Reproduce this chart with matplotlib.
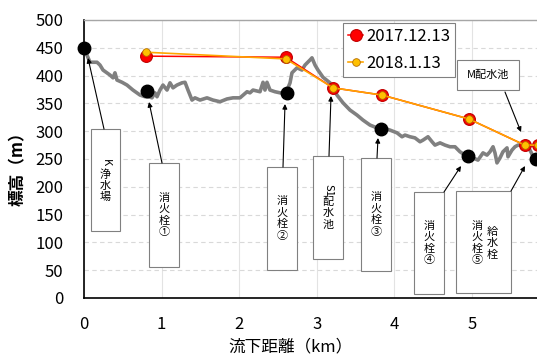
import matplotlib
matplotlib.use("Agg")
import matplotlib.pyplot as plt
from matplotlib.patches import Rectangle

plt.rcParams['font.family'] = ['Noto Sans CJK JP', 'DejaVu Sans']

# Ground profile along the pipeline (distance km, elevation m)
terrain_km = [0.000, 0.026, 0.077, 0.168, 0.206, 0.245, 0.335, 0.374, 0.399, 0.425,
              0.490, 0.554, 0.631, 0.722, 0.786, 0.838, 0.876, 0.915, 0.941, 0.979,
              1.018, 1.070, 1.108, 1.147, 1.198, 1.263, 1.302, 1.340, 1.392, 1.430,
              1.495, 1.585, 1.662, 1.753, 1.843, 1.920, 2.010, 2.101, 2.139, 2.178,
              2.268, 2.307, 2.332, 2.358, 2.397, 2.461, 2.526, 2.603, 2.655, 2.680,
              2.745, 2.809, 2.848, 2.912, 2.938, 2.977, 3.015, 3.080, 3.170, 3.260,
              3.338, 3.428, 3.518, 3.595, 3.686, 3.776, 3.853, 3.943, 4.034, 4.098,
              4.137, 4.201, 4.265, 4.330, 4.369, 4.433, 4.485, 4.523, 4.588, 4.652,
              4.716, 4.781, 4.845, 4.910, 4.948, 5.013, 5.077, 5.142, 5.193, 5.232,
              5.271, 5.296, 5.322, 5.361, 5.399, 5.451, 5.464, 5.515, 5.554, 5.593,
              5.657, 5.709, 5.747, 5.812]
terrain_m = [448, 441, 424, 424, 419, 410, 401, 396, 405, 392,
             388, 383, 374, 365, 362, 362, 360, 369, 362, 374,
             383, 374, 387, 378, 383, 387, 388, 374, 356, 360,
             356, 360, 356, 353, 358, 360, 360, 371, 369, 374,
             371, 388, 374, 388, 374, 371, 369, 369, 387, 405,
             414, 410, 419, 428, 432, 419, 410, 397, 387, 365,
             351, 338, 329, 320, 311, 306, 306, 302, 297, 290,
             293, 290, 288, 281, 284, 290, 281, 275, 279, 275,
             272, 272, 263, 257, 255, 252, 248, 261, 257, 263,
             272, 261, 243, 252, 263, 270, 254, 266, 272, 275,
             275, 273, 266, 248]

# Facility locations on the ground profile
site_km = [0.00, 0.81, 2.62, 3.83, 4.95, 5.82]
site_m = [450, 372, 369, 304, 255, 250]

# Hydraulic grade line measurements
gauge_km = [0.80, 2.60, 3.21, 3.84, 4.96, 5.68, 5.85]
head_20171213 = [435, 433, 378, 365, 322, 275, 275]
head_20180113 = [442, 430, 378, 365, 322, 275, 275]

x_ticks = [0, 1, 2, 3, 4, 5]
y_ticks = [0, 50, 100, 150, 200, 250, 300, 350, 400, 450, 500]

W, H = 537, 356
fig = plt.figure(figsize=(W / 100, H / 100), dpi=100)
ax = fig.add_axes([84 / W, 58 / H, 461 / W, 278 / H])
ax.set_xlim(0, 461 / 77.6)
ax.set_ylim(0, 500)

ax.set_xticks(x_ticks)
ax.set_yticks(y_ticks)
ax.tick_params(length=0, labelsize=12, colors='#000000')
ax.tick_params(axis='x', pad=13)
ax.tick_params(axis='y', pad=15)
ax.grid(axis='y', color='#D9D9D9', linestyle=(0, (4, 3)), linewidth=0.8)
ax.grid(axis='x', color='#E3E3E3', linestyle='-', linewidth=0.8)
ax.set_axisbelow(True)
ax.spines['right'].set_visible(False)
ax.spines['top'].set_color('#A6A6A6')
ax.spines['top'].set_linewidth(1.0)
ax.spines['left'].set_linewidth(1.2)
ax.spines['bottom'].set_linewidth(1.2)

ax.plot(terrain_km, terrain_m, color='#808080', linewidth=2.6, zorder=2,
        solid_joinstyle='round')
ax.plot(site_km, site_m, linestyle='none', marker='o', markersize=9,
        color='black', zorder=5, clip_on=False)

l1, = ax.plot(gauge_km, head_20171213, color='#FF0000', linewidth=1.1,
              marker='o', markersize=8.5, markerfacecolor='#FF0000',
              markeredgecolor='#C00000', markeredgewidth=0.8, zorder=6,
              clip_on=False, label='2017.12.13')
l2, = ax.plot(gauge_km, head_20180113, color='#FFA500', linewidth=1.2,
              marker='o', markersize=5.5, markerfacecolor='#FFC000',
              markeredgecolor='#B36B00', markeredgewidth=0.6, zorder=7,
              clip_on=False, label='2018.1.13')

leg = ax.legend(handles=[l1, l2], loc='upper left',
                bbox_to_anchor=(259 / 461, 275 / 278), fontsize=12,
                frameon=True, fancybox=False, framealpha=1,
                edgecolor='#808080', handlelength=0.9, handletextpad=0.2,
                borderpad=0.3, labelspacing=0.62, borderaxespad=0)
leg.get_frame().set_linewidth(0.8)
leg.set_zorder(10)

ax.set_xlabel('流下距離（km）', fontsize=12)
ax.xaxis.set_label_coords((290 - 84) / 461, -0.145)
ax.set_ylabel('標高（m）', fontsize=12, fontweight='bold')
ax.yaxis.set_label_coords(-0.124, 0.48)


def px(x, y):
    return ((x - 84) / 77.6, (298 - y) / 0.556)


def box(x0, y0, x1, y1):
    (a, b), (c, d) = px(x0, y1), px(x1, y0)
    ax.add_patch(Rectangle((a, b), c - a, d - b, facecolor='white',
                           edgecolor='#808080', linewidth=0.8, zorder=8,
                           clip_on=False))


def arrow(tail, head):
    ax.annotate('', xy=px(*head), xytext=px(*tail),
                arrowprops=dict(arrowstyle='-|>', color='black', lw=0.8,
                                mutation_scale=7, shrinkA=0, shrinkB=0),
                zorder=9)


def vtext(cx, cy, chars, step=11.5):
    n = len(chars)
    top = cy - step * (n - 1) / 2
    for i, ch in enumerate(chars):
        rot = 270 if ch.isascii() else 0
        ax.text(*px(cx, top + i * step), ch, fontsize=8, rotation=rot,
                ha='center', va='center', zorder=9)


labels = [
    ((91, 129, 120, 231), ['K', '浄', '水', '場'], (104, 129), (88, 58)),
    ((149, 163, 179, 267), ['消', '火', '栓', '①'], (162, 163), (149, 102)),
    ((267, 167, 297, 270), ['消', '火', '栓', '②'], (283, 167), (285, 104)),
    ((313, 156, 343, 259), ['S1', '配', '水', '池'], (329, 156), (331, 96)),
    ((361, 158, 391, 271), ['消', '火', '栓', '③'], (377, 158), (378, 138)),
    ((414, 192, 444, 294), ['消', '火', '栓', '④'], (444, 192), (461, 166)),
]
for (x0, y0, x1, y1), chars, tail, head in labels:
    box(x0, y0, x1, y1)
    vtext((x0 + x1) / 2, (y0 + y1) / 2, chars)
    arrow(tail, head)

box(456, 191, 511, 293)
vtext(477, 243, ['消', '火', '栓', '⑤'])
vtext(492, 243, ['給', '水', '栓'])
arrow((511, 191), (525, 166))

box(457, 60, 519, 90)
ax.text(*px(488, 75), 'M配水池', fontsize=8, ha='center', va='center',
        zorder=9)
arrow((505, 92), (521, 132))

fig.savefig('out.png', dpi=100)
